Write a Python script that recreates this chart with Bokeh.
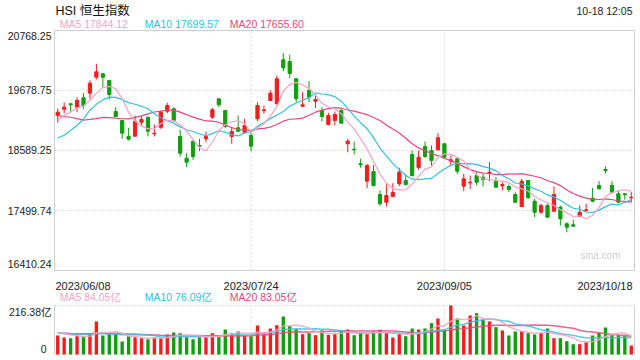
import numpy as np
from bokeh.plotting import figure
from bokeh.models import Range1d, Label, LinearAxis
from bokeh.models import DataRange1d
from bokeh.embed import file_html
from bokeh.resources import INLINE

# ---------------- data ----------------
opens = [19224, 19339, 19438, 19376, 19546, 19630, 19920, 19982, 19862, 19297,
         19134, 18843, 18849, 19103, 19194, 18892, 19012, 19302, 19346, 18843,
         18450, 18758, 18680, 18802, 19194, 19528, 19315, 18843, 19001, 18922,
         18861, 19165, 19315, 19498, 19437, 20237, 20206, 19892, 19394, 19679,
         19485, 19315, 19062, 19134, 19315, 18711, 18613, 18348, 18032, 18208,
         17790, 17650, 17755, 17985, 18045, 18517, 18281, 18662, 18589, 18601,
         18711, 18395, 18438, 17942, 18002, 18135, 18105, 18178, 18045, 17948,
         17936, 17790, 17572, 18045, 17668, 17469, 17590, 17487, 17560, 17258,
         17240, 17391, 17500, 17723, 17954, 18244, 17954, 17803, 17803, 17730]
highs = [19352, 19461, 19443, 19557, 19630, 19862, 20164, 20000, 19862, 19376,
         19134, 19001, 19224, 19212, 19194, 19062, 19315, 19455, 19376, 18970,
         18540, 18758, 18802, 18935, 19364, 19528, 19315, 19012, 19224, 19165,
         18922, 19467, 19406, 19679, 19951, 20358, 20328, 19892, 19649, 19849,
         19588, 19376, 19274, 19297, 19346, 18802, 18753, 18439, 18348, 18330,
         17864, 17973, 17997, 18275, 18167, 18589, 18589, 18753, 18680, 18904,
         18711, 18498, 18450, 18166, 18135, 18196, 18166, 18377, 18105, 18014,
         17973, 17833, 18075, 18045, 17712, 17621, 17621, 17936, 17590, 17288,
         17331, 17590, 17621, 17912, 18032, 18299, 18032, 17864, 17815, 17833]
lows = [19097, 19261, 19285, 19285, 19347, 19528, 19879, 19739, 19511, 19193,
        18802, 18771, 18849, 19031, 18843, 18843, 18982, 19267, 19103, 18480,
        18286, 18420, 18576, 18740, 19165, 19376, 18994, 18711, 18922, 18892,
        18571, 19121, 19255, 19485, 19424, 20029, 19903, 19467, 19376, 19467,
        19364, 19121, 19043, 19043, 19074, 18558, 18517, 18275, 17904, 17936,
        17589, 17572, 17742, 17942, 17954, 18117, 18239, 18456, 18316, 18589,
        18438, 18316, 18166, 17852, 17893, 17954, 17936, 18032, 17912, 17864,
        17833, 17632, 17572, 17712, 17379, 17439, 17367, 17469, 17227, 17106,
        17215, 17379, 17487, 17650, 17881, 18177, 17803, 17632, 17694, 17650]
closes = [19285, 19376, 19419, 19498, 19406, 19812, 20017, 19920, 19606, 19206,
          18904, 18795, 19121, 19152, 18940, 18903, 19285, 19406, 19134, 18540,
          18377, 18480, 18668, 18843, 19328, 19419, 19025, 18935, 18940, 19043,
          18668, 19406, 19328, 19630, 19892, 20091, 19988, 19528, 19419, 19557,
          19515, 19206, 19224, 19243, 19086, 18758, 18602, 18330, 18317, 17954,
          17621, 17772, 17827, 18196, 17973, 18135, 18468, 18480, 18408, 18820,
          18468, 18420, 18213, 18075, 18013, 18013, 18058, 18196, 17923, 17973,
          17881, 17650, 18032, 17731, 17469, 17590, 17379, 17790, 17349, 17196,
          17215, 17469, 17513, 17668, 17894, 18226, 17833, 17650, 17784, 17742]
volumes = [83.9, 75, 72, 83.9, 79.5, 91.4, 145.7, 84, 91.4, 91.4,
           57.4, 80.9, 76.5, 72, 67.6, 75, 72, 88.3, 97.2, 94.2,
           76.5, 67.6, 76.5, 76.5, 94.2, 79.5, 110.4, 94.2, 101.6, 84,
           80.9, 128, 88.3, 114.8, 129.4, 167.8, 126.7, 111.7, 89.6, 94.2,
           85.3, 106, 87, 89.6, 103, 110.4, 85.3, 95.7, 89.6, 103,
           109, 94.2, 75, 89.6, 80.9, 114.8, 110.4, 114.8, 138.3, 159,
           109, 216.38, 159, 128, 172.2, 182.5, 153, 145.7, 120.7, 106,
           84, 101.6, 103, 94.2, 88.3, 94.2, 114.8, 72, 72, 58.9,
           45.6, 45.6, 54.4, 84, 95.7, 119.2, 87, 85.3, 82.6, 39.7]

# sessions before the first visible candle (estimated; only feed the moving averages)
prior_closes = [19743, 19628, 19971, 19978, 19560, 19727, 19450, 19678, 19431, 19115,
                18862, 18551, 18595, 18234, 18216, 18950, 19109, 19099, 19252]
prior_volumes = [95, 92, 98, 96, 90, 88, 97, 101, 94, 90,
                 96, 99, 93, 91, 97, 95, 100, 99, 98]

price_ticks = [16410.24, 17499.74, 18589.25, 19678.75, 20768.25]
price_tick_labels = ["16410.24", "17499.74", "18589.25", "19678.75", "20768.25"]
vol_ticks = [0, 216.38]
vol_tick_labels = ["0", "216.38亿"]
date_positions = [0, 30, 60, 89]
date_labels = ["2023/06/08", "2023/07/24", "2023/09/05", "2023/10/18"]
title_text = "HSI 恒生指数"
time_text = "10-18 12:05"
price_legend = ["MA5 17844.12", "MA10 17699.57", "MA20 17655.60"]
vol_legend = ["MA5 84.05亿", "MA10 76.09亿", "MA20 83.05亿"]

# ---------------- layout & styles ----------------
W, H = 640, 360
FL, FR = 54, 634          # panel left / right (px)
MT, MB = 30, 270          # price panel top / bottom (px)
VT, VB = 305, 354         # volume panel top / bottom (px)

RED = "#f21d1d"
GREEN = "#0f9e0f"
C_MA5 = "#f7a3c3"
C_MA10 = "#33c1e0"
C_MA20 = "#e9487c"
GRID = "#d8d8d8"
BORDER = "#cfcfcf"
TXT = "#222222"
FONT = "Liberation Sans, Noto Sans CJK SC"

N = len(closes)
idx = list(range(N))
x_lo, x_hi = -0.5, N - 0.5
slot = (FR - FL) / N
p_lo, p_hi = price_ticks[0], price_ticks[-1]
kp = (p_hi - p_lo) / (MB - MT)
v_lo, v_hi = vol_ticks[0], vol_ticks[-1]
kv = (v_hi - v_lo) / (VB - VT)


def moving_average(prior, vals, n):
    arr = np.array(list(prior) + list(vals), dtype=float)
    off = len(prior)
    return [float(arr[off + i - n + 1: off + i + 1].mean()) for i in range(len(vals))]


colors = [RED if c > o else GREEN for o, c in zip(opens, closes)]
tops = [max(o, c) for o, c in zip(opens, closes)]
bots = [min(o, c) for o, c in zip(opens, closes)]

p = figure(width=W, height=H,
           x_range=Range1d(x_lo - FL / slot, x_hi + (W - FR) / slot),
           y_range=Range1d(p_lo - (H - MB) * kp, p_hi + MT * kp),
           output_backend="svg", toolbar_location=None, title=None,
           x_axis_location=None, y_axis_location=None,
           min_border=0, min_border_left=0, min_border_right=0,
           min_border_top=0, min_border_bottom=0)
p.extra_y_ranges = {"vol": Range1d(v_lo - (H - VB) * kv, v_hi + VT * kv)}
p.xgrid.visible = False
p.ygrid.visible = False
p.outline_line_color = None
p.background_fill_color = "white"
p.border_fill_color = "white"

# ---- price panel frame & grid ----
p.segment(x0=[x_lo] * 3, x1=[x_hi] * 3, y0=price_ticks[1:-1], y1=price_ticks[1:-1],
          line_color=GRID, line_dash="2 2", line_width=1)
p.segment(x0=date_positions[1:3], x1=date_positions[1:3], y0=[p_lo] * 2, y1=[p_hi] * 2,
          line_color=GRID, line_dash="2 2", line_width=1)
p.quad(left=[x_lo], right=[x_hi], bottom=[p_lo], top=[p_hi], fill_color=None,
       line_color=BORDER, line_width=1)

# ---- candles ----
p.segment(x0=idx, y0=highs, x1=idx, y1=lows, line_color=colors, line_width=1)
p.vbar(x=idx, width=0.5, top=tops, bottom=bots, fill_color=colors, line_color=colors, line_width=1)

p.line(idx, moving_average(prior_closes, closes, 20), line_color=C_MA20, line_width=1.2)
p.line(idx, moving_average(prior_closes, closes, 10), line_color=C_MA10, line_width=1.2)
p.line(idx, moving_average(prior_closes, closes, 5), line_color=C_MA5, line_width=1.2)

# ---- volume panel ----
p.segment(x0=[x_lo] * 2, x1=[x_hi] * 2, y0=vol_ticks, y1=vol_ticks, y_range_name="vol",
          line_color=GRID, line_dash="2 2", line_width=1)
p.segment(x0=date_positions[1:3], x1=date_positions[1:3], y0=[v_lo] * 2, y1=[v_hi] * 2,
          y_range_name="vol", line_color=GRID, line_dash="2 2", line_width=1)
p.segment(x0=[x_lo, x_hi], x1=[x_lo, x_hi], y0=[v_lo] * 2, y1=[v_hi] * 2,
          y_range_name="vol", line_color=BORDER, line_width=1)
p.vbar(x=idx, width=0.52, top=volumes, bottom=0, y_range_name="vol",
       fill_color=colors, line_color=None)
p.line(idx, moving_average(prior_volumes, volumes, 20), y_range_name="vol",
       line_color=C_MA20, line_width=1.5, line_alpha=0.85)
p.line(idx, moving_average(prior_volumes, volumes, 10), y_range_name="vol",
       line_color=C_MA10, line_width=1.5, line_alpha=0.85)
p.line(idx, moving_average(prior_volumes, volumes, 5), y_range_name="vol",
       line_color=C_MA5, line_width=1.5, line_alpha=0.85)


def label(x, y, text, align="left", size="10.5px", color=TXT, dx=0, dy=0, yr="default"):
    p.add_layout(Label(x=x, y=y, x_offset=dx, y_offset=dy, text=text, text_align=align,
                       text_baseline="middle", text_font=FONT, text_font_size=size,
                       text_color=color, y_range_name=yr))


# y tick labels (price)
for t, lab in zip(price_ticks, price_tick_labels):
    off = -5 if t == p_hi else (7 if t == p_lo else 0)
    label(x_lo, t, lab, align="right", dx=-3, dy=off)
# y tick labels (volume)
label(x_lo, v_hi, vol_tick_labels[1], align="right", dx=-3, dy=-6, yr="vol")
label(x_lo, v_lo, vol_tick_labels[0], align="right", dx=-8, dy=6, yr="vol")

# date labels
aligns = ["left", "center", "center", "right"]
for pos, lab, al in zip(date_positions, date_labels, aligns):
    xx = x_lo if al == "left" else (x_hi if al == "right" else pos)
    label(xx, p_lo, lab, align=al, size="11px", dx=(1 if al == "left" else -2 if al == "right" else 0), dy=-15)

# title / time / legends
label(x_lo, p_hi, title_text, size="12.5px", color="#111111", dx=1, dy=20)
label(x_hi, p_hi, time_text, align="right", size="10.5px", dx=-2, dy=20)
leg_x = [0.3, 13.5, 26.7]
for xx, lab, col in zip(leg_x, price_legend, [C_MA5, C_MA10, C_MA20]):
    label(xx, p_hi, lab, color=col, dy=7)
for xx, lab, col in zip(leg_x, vol_legend, [C_MA5, C_MA10, C_MA20]):
    label(xx, v_hi, lab, color=col, dy=9, yr="vol")
label(x_hi, p_lo, "sina.com", align="right", size="10px", color="#d0d0d0", dx=-14, dy=15)

open("out.html", "w").write(file_html(p, INLINE))
